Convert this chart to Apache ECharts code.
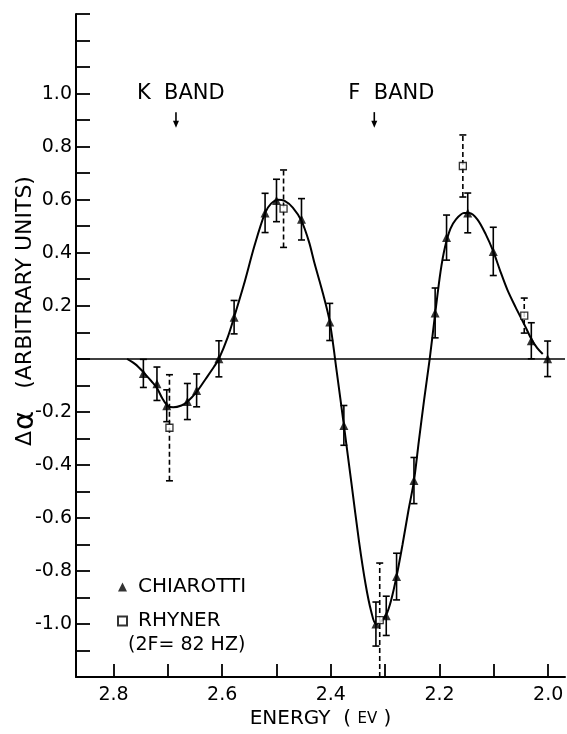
<!DOCTYPE html>
<html><head><meta charset="utf-8">
<script src="https://cdn.jsdelivr.net/npm/echarts@6/dist/echarts.min.js"></script>
<style>html,body{margin:0;padding:0;background:#fff}#c{width:567px;height:734px}</style>
</head><body><div id="c"></div>
<script>
// ---- data ----
const xTicks = [2.8, 2.7, 2.6, 2.5, 2.4, 2.3, 2.2, 2.1, 2.0];
const xTickLabels = [2.8, 2.6, 2.4, 2.2, 2.0];
const yTicks = [1.3, 1.2, 1.1, 1.0, 0.9, 0.8, 0.7, 0.6, 0.5, 0.4, 0.3, 0.2, 0.1, 0.0,
                -0.1, -0.2, -0.3, -0.4, -0.5, -0.6, -0.7, -0.8, -0.9, -1.0, -1.1, -1.2];
const yTickLabels = [1.0, 0.8, 0.6, 0.4, 0.2, -0.2, -0.4, -0.6, -0.8, -1.0];

const chiarottiEnergy = [2.745, 2.720, 2.702, 2.664, 2.647, 2.606, 2.578, 2.521, 2.500, 2.454, 2.402,
                         2.376, 2.317, 2.298, 2.279, 2.247, 2.208, 2.187, 2.148, 2.101, 2.031, 2.001];
const chiarottiValue  = [-0.055, -0.094, -0.177, -0.161, -0.119, 0.0, 0.157, 0.55, 0.597, 0.526, 0.139,
                         -0.251, -1.0, -0.969, -0.821, -0.459, 0.173, 0.457, 0.55, 0.405, 0.068, 0.0];
const chiarottiError  = [0.053, 0.063, 0.06, 0.068, 0.062, 0.068, 0.063, 0.074, 0.08, 0.078, 0.07,
                         0.075, 0.083, 0.074, 0.088, 0.087, 0.094, 0.085, 0.075, 0.091, 0.068, 0.067];

const rhynerEnergy = [2.697, 2.487, 2.310, 2.157, 2.044];
const rhynerValue  = [-0.26, 0.566, -0.985, 0.727, 0.163];
const rhynerError  = [0.2, 0.146, 0.215, 0.117, 0.066];

const curveEnergy = [2.775, 2.76, 2.745, 2.73, 2.72, 2.71, 2.70, 2.69, 2.675, 2.664, 2.647, 2.63, 2.615,
                     2.606, 2.59, 2.578, 2.56, 2.54, 2.521, 2.51, 2.497, 2.485, 2.47, 2.454, 2.44, 2.43,
                     2.415, 2.402, 2.389, 2.376, 2.362, 2.348, 2.336, 2.326, 2.317, 2.308, 2.298,
                     2.289, 2.279, 2.268, 2.257, 2.247, 2.238, 2.228, 2.218, 2.208, 2.198, 2.19, 2.18, 2.17,
                     2.155, 2.145, 2.13, 2.115, 2.101, 2.088, 2.075, 2.06, 2.044, 2.031, 2.02, 2.01];
const curveValue  = [0.0, -0.02, -0.05, -0.085, -0.11, -0.15, -0.178, -0.183, -0.176, -0.162, -0.125, -0.075, -0.03,
                     0.0, 0.08, 0.157, 0.28, 0.43, 0.55, 0.585, 0.60, 0.595, 0.57, 0.52, 0.44, 0.36,
                     0.25, 0.14, -0.05, -0.25, -0.47, -0.69, -0.85, -0.95, -1.0, -0.99, -0.965,
                     -0.91, -0.82, -0.70, -0.57, -0.46, -0.31, -0.15, 0.0, 0.17, 0.33, 0.42, 0.49, 0.525,
                     0.55, 0.55, 0.525, 0.47, 0.405, 0.33, 0.26, 0.195, 0.13, 0.075, 0.04, 0.018];

const bandLabels = ['K BAND', 'F BAND'];
const bandEnergy = [2.685, 2.32];
const legendNames = ['CHIAROTTI', 'RHYNER'];
const legendNote = '(2F= 82 HZ)';

// ---- chart ----
const FONT = 'DejaVu Sans';
const chart = echarts.init(document.getElementById('c'), null, {renderer: 'canvas'});

function errorBars(name, energy, value, err, dashed) {
  return {
    type: 'custom', name: name + ' err', silent: true, z: 2,
    data: energy.map((e, i) => [e, value[i] - err[i], value[i] + err[i]]),
    encode: {x: 0, y: [1, 2]},
    renderItem(params, api) {
      const x = api.value(0);
      const lo = api.coord([x, api.value(1)]);
      const hi = api.coord([x, api.value(2)]);
      const w = 3.5;
      const st = {stroke: '#000', lineWidth: 1.6, fill: null};
      return {type: 'group', children: [
        {type: 'line', shape: {x1: lo[0], y1: lo[1], x2: hi[0], y2: hi[1]},
         style: Object.assign({}, st, dashed ? {lineDash: [5, 3]} : {})},
        {type: 'line', shape: {x1: lo[0] - w, y1: lo[1], x2: lo[0] + w, y2: lo[1]}, style: st},
        {type: 'line', shape: {x1: hi[0] - w, y1: hi[1], x2: hi[0] + w, y2: hi[1]}, style: st}
      ]};
    }
  };
}

const fmt = v => Number(v).toFixed(1);

chart.setOption({
  animation: false,
  backgroundColor: '#fff',
  grid: {left: 76, right: 2, top: 14, bottom: 46, containLabel: false},
  xAxis: {
    type: 'value', inverse: true, min: 1.969, max: 2.869,
    axisLine: {show: true, onZero: false, lineStyle: {color: '#000', width: 2}},
    axisTick: {show: true, inside: true, length: 13, customValues: xTicks, lineStyle: {color: '#000', width: 1.8}},
    axisLabel: {customValues: xTickLabels, formatter: fmt, color: '#000', fontFamily: FONT, fontSize: 19, margin: 8},
    splitLine: {show: false},
    name: '{a|ENERGY  ( }{b|EV}{a| )}', nameLocation: 'middle', nameGap: 25,
    nameTextStyle: {rich: {a: {fontFamily: FONT, fontSize: 20, color: '#000'}, b: {fontFamily: FONT, fontSize: 15, color: '#000'}}}
  },
  yAxis: {
    type: 'value', min: -1.2, max: 1.3,
    axisLine: {show: true, onZero: false, lineStyle: {color: '#000', width: 2}},
    axisTick: {show: true, inside: true, length: 14, customValues: yTicks, lineStyle: {color: '#000', width: 1.8}},
    axisLabel: {customValues: yTickLabels, formatter: fmt, color: '#000', fontFamily: FONT, fontSize: 19, margin: 4},
    splitLine: {show: false}
  },
  legend: {
    data: legendNames.map(n => ({name: n})),
    orient: 'vertical', left: 112, top: 572, itemGap: 14,
    itemWidth: 9, itemHeight: 9,
    textStyle: {fontFamily: FONT, fontSize: 20, color: '#000', padding: [0, 0, 0, 6]},
    selectedMode: false
  },
  series: [
    {
      type: 'line', name: 'fit', smooth: 0.3, showSymbol: false, silent: true, z: 3,
      data: curveEnergy.map((e, i) => [e, curveValue[i]]),
      lineStyle: {color: '#000', width: 2},
      markLine: {
        silent: true, symbol: 'none', label: {show: false},
        lineStyle: {color: '#000', width: 1.6, type: 'solid'},
        data: [{yAxis: 0}]
      }
    },
    errorBars('CHIAROTTI', chiarottiEnergy, chiarottiValue, chiarottiError, false),
    errorBars('RHYNER', rhynerEnergy, rhynerValue, rhynerError, true),
    {
      type: 'scatter', name: 'CHIAROTTI', symbol: 'triangle', symbolSize: 9, z: 5,
      data: chiarottiEnergy.map((e, i) => [e, chiarottiValue[i]]),
      itemStyle: {color: '#000'}
    },
    {
      type: 'scatter', name: 'RHYNER', symbol: 'rect', symbolSize: 7, z: 6,
      data: rhynerEnergy.map((e, i) => [e, rhynerValue[i]]),
      itemStyle: {color: '#fff', borderColor: '#000', borderWidth: 1.3}
    }
  ]
});

// annotations positioned through the axes
const labelShift = [-39, -26];
const graphics = [];
bandLabels.forEach((t, i) => {
  const p = chart.convertToPixel({gridIndex: 0}, [bandEnergy[i], 1.0]);
  const pa = chart.convertToPixel({gridIndex: 0}, [bandEnergy[i], 0.93]);
  const pb = chart.convertToPixel({gridIndex: 0}, [bandEnergy[i], 0.875]);
  graphics.push({type: 'text', left: p[0] + labelShift[i], top: p[1] - 11,
    style: {text: t.replace(' ', '  '), fontFamily: FONT, fontSize: 21, fill: '#000'}});
  graphics.push({type: 'line', shape: {x1: pa[0], y1: pa[1], x2: pa[0], y2: pb[1] - 2}, style: {stroke: '#000', lineWidth: 1.6}});
  graphics.push({type: 'polygon', shape: {points: [[pb[0] - 3, pb[1] - 6], [pb[0] + 3, pb[1] - 6], [pb[0], pb[1] + 1]]}, style: {fill: '#000'}});
});
graphics.push({type: 'text', left: 128, top: 636,
  style: {text: legendNote, fontFamily: FONT, fontSize: 19, fill: '#000'}});
graphics.push({type: 'text', x: 25, y: 311, rotation: Math.PI / 2,
  style: {text: '{d|Δ}{a|α}{t|(ARBITRARY UNITS)}', align: 'center', verticalAlign: 'middle',
    rich: {d: {fontFamily: FONT, fontSize: 22, fill: '#000'},
           a: {fontFamily: FONT, fontSize: 29, fill: '#000', padding: [0, 22, 0, 1]},
           t: {fontFamily: FONT, fontSize: 22, fill: '#000'}}}});
chart.setOption({graphic: graphics});
</script>
</body></html>
